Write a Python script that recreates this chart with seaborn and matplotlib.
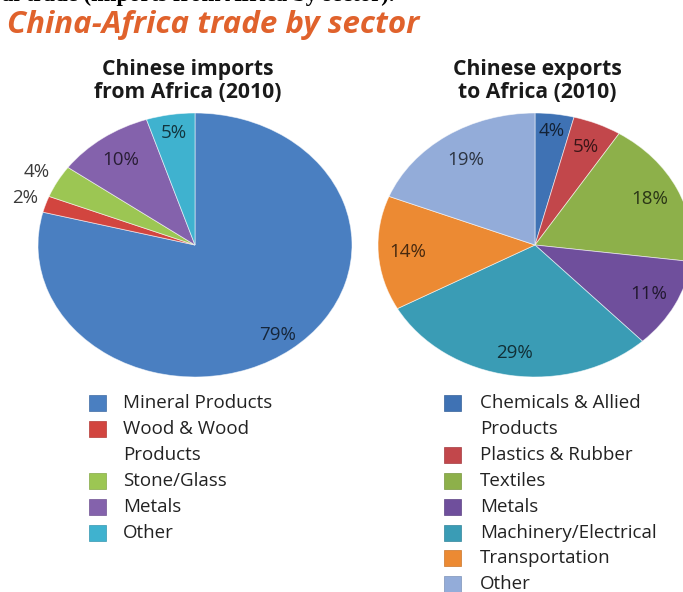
import matplotlib
matplotlib.use("Agg")
import matplotlib.pyplot as plt
import matplotlib.colors as mcolors
from matplotlib.patches import Rectangle
import seaborn as sns
import numpy as np

# data
import_labels = ["Mineral Products", "Wood & Wood\nProducts", "Stone/Glass", "Metals", "Other"]
import_values = [79, 2, 4, 10, 5]
import_colors = ["#4a7fc1", "#d2453f", "#9cc653", "#8462ac", "#3fb2cf"]

export_labels = ["Chemicals & Allied\nProducts", "Plastics & Rubber", "Textiles", "Metals",
                 "Machinery/Electrical", "Transportation", "Other"]
export_values = [4, 5, 18, 11, 29, 14, 19]
export_colors = ["#3f72b4", "#c2474b", "#8db04a", "#6f4f9c", "#3a9cb5", "#ec8a33", "#93acd9"]

# radial position of the % labels (fraction of radius)
import_label_r = [0.86, 1.14, 1.15, 0.80, 0.86]
export_label_r = [0.87, 0.81, 0.81, 0.81, 0.83, 0.81, 0.78]

W, H = 683, 592
sns.set_theme(style="white")
plt.rcParams['font.family'] = ['Open Sans', 'DejaVu Sans']

fig = plt.figure(figsize=(W / 100, H / 100), dpi=100)
fig.patch.set_facecolor("white")


def fx(x):
    return x / W


def fy(y):
    return 1 - y / H


def darker(c, f=0.3):
    r, g, b = mcolors.to_rgb(c)
    return (r * f, g * f, b * f)


def draw_pie(cx, cy, rx, ry, values, colors, label_r, outside_color="#3a3a3a"):
    ax = fig.add_axes([fx(cx - rx), fy(cy + ry), (2 * rx) / W, (2 * ry) / H])
    wedges, _ = ax.pie(values, colors=colors, startangle=90, counterclock=False,
                       wedgeprops=dict(edgecolor=(1, 1, 1, 0.6), linewidth=0.6))
    ax.set_aspect("auto")
    ax.set_xlim(-1, 1)
    ax.set_ylim(-1, 1)
    ax.axis("off")
    for w, v, c, r in zip(wedges, values, colors, label_r):
        ang = np.deg2rad((w.theta1 + w.theta2) / 2)
        tc = darker(c) if r < 1 else outside_color
        ax.text(r * np.cos(ang), r * np.sin(ang), f"{v}%", ha="center", va="center",
                fontsize=13.5, color=tc, clip_on=False)
    return ax


draw_pie(195, 245, 157, 132, import_values, import_colors, import_label_r)
draw_pie(535, 245, 157, 132, export_values, export_colors, export_label_r)

# cut-off caption line at the very top (only its lower edge shows in the source)
fig.text(fx(395), fy(1.2), "al trade (imports from Africa by sector).", ha="right", va="baseline",
         fontsize=16.5, fontweight="bold", family=["Liberation Serif", "DejaVu Serif"], color="black")

# main title
fig.text(fx(7), fy(25), "China-Africa trade by sector", ha="left", va="center",
         fontsize=22.5, fontweight="bold", fontstyle="italic", color="#e0622c")

# pie titles
for x, lines in [(188, ["Chinese imports", "from Africa (2010)"]),
                 (537, ["Chinese exports", "to Africa (2010)"])]:
    for i, line in enumerate(lines):
        fig.text(fx(x), fy(70 + 23 * i), line, ha="center", va="center",
                 fontsize=15.2, fontweight="bold", color="#1a1a1a")


# legends
def draw_legend(sq_x, txt_x, labels, colors):
    row = 0
    for lab, c in zip(labels, colors):
        y = 403 + 25.9 * row
        fig.patches.append(Rectangle((fx(sq_x), fy(y + 8)), 17 / W, 16 / H, transform=fig.transFigure,
                                     facecolor=c, edgecolor=darker(c, 0.85), linewidth=0.5))
        for line in lab.split("\n"):
            fig.text(fx(txt_x), fy(25.9 * row + 403), line, ha="left", va="center",
                     fontsize=13.5, color="#222222")
            row += 1


draw_legend(89, 123, import_labels, import_colors)
draw_legend(444, 480, export_labels, export_colors)

fig.savefig("out.png", dpi=100, facecolor="white")
